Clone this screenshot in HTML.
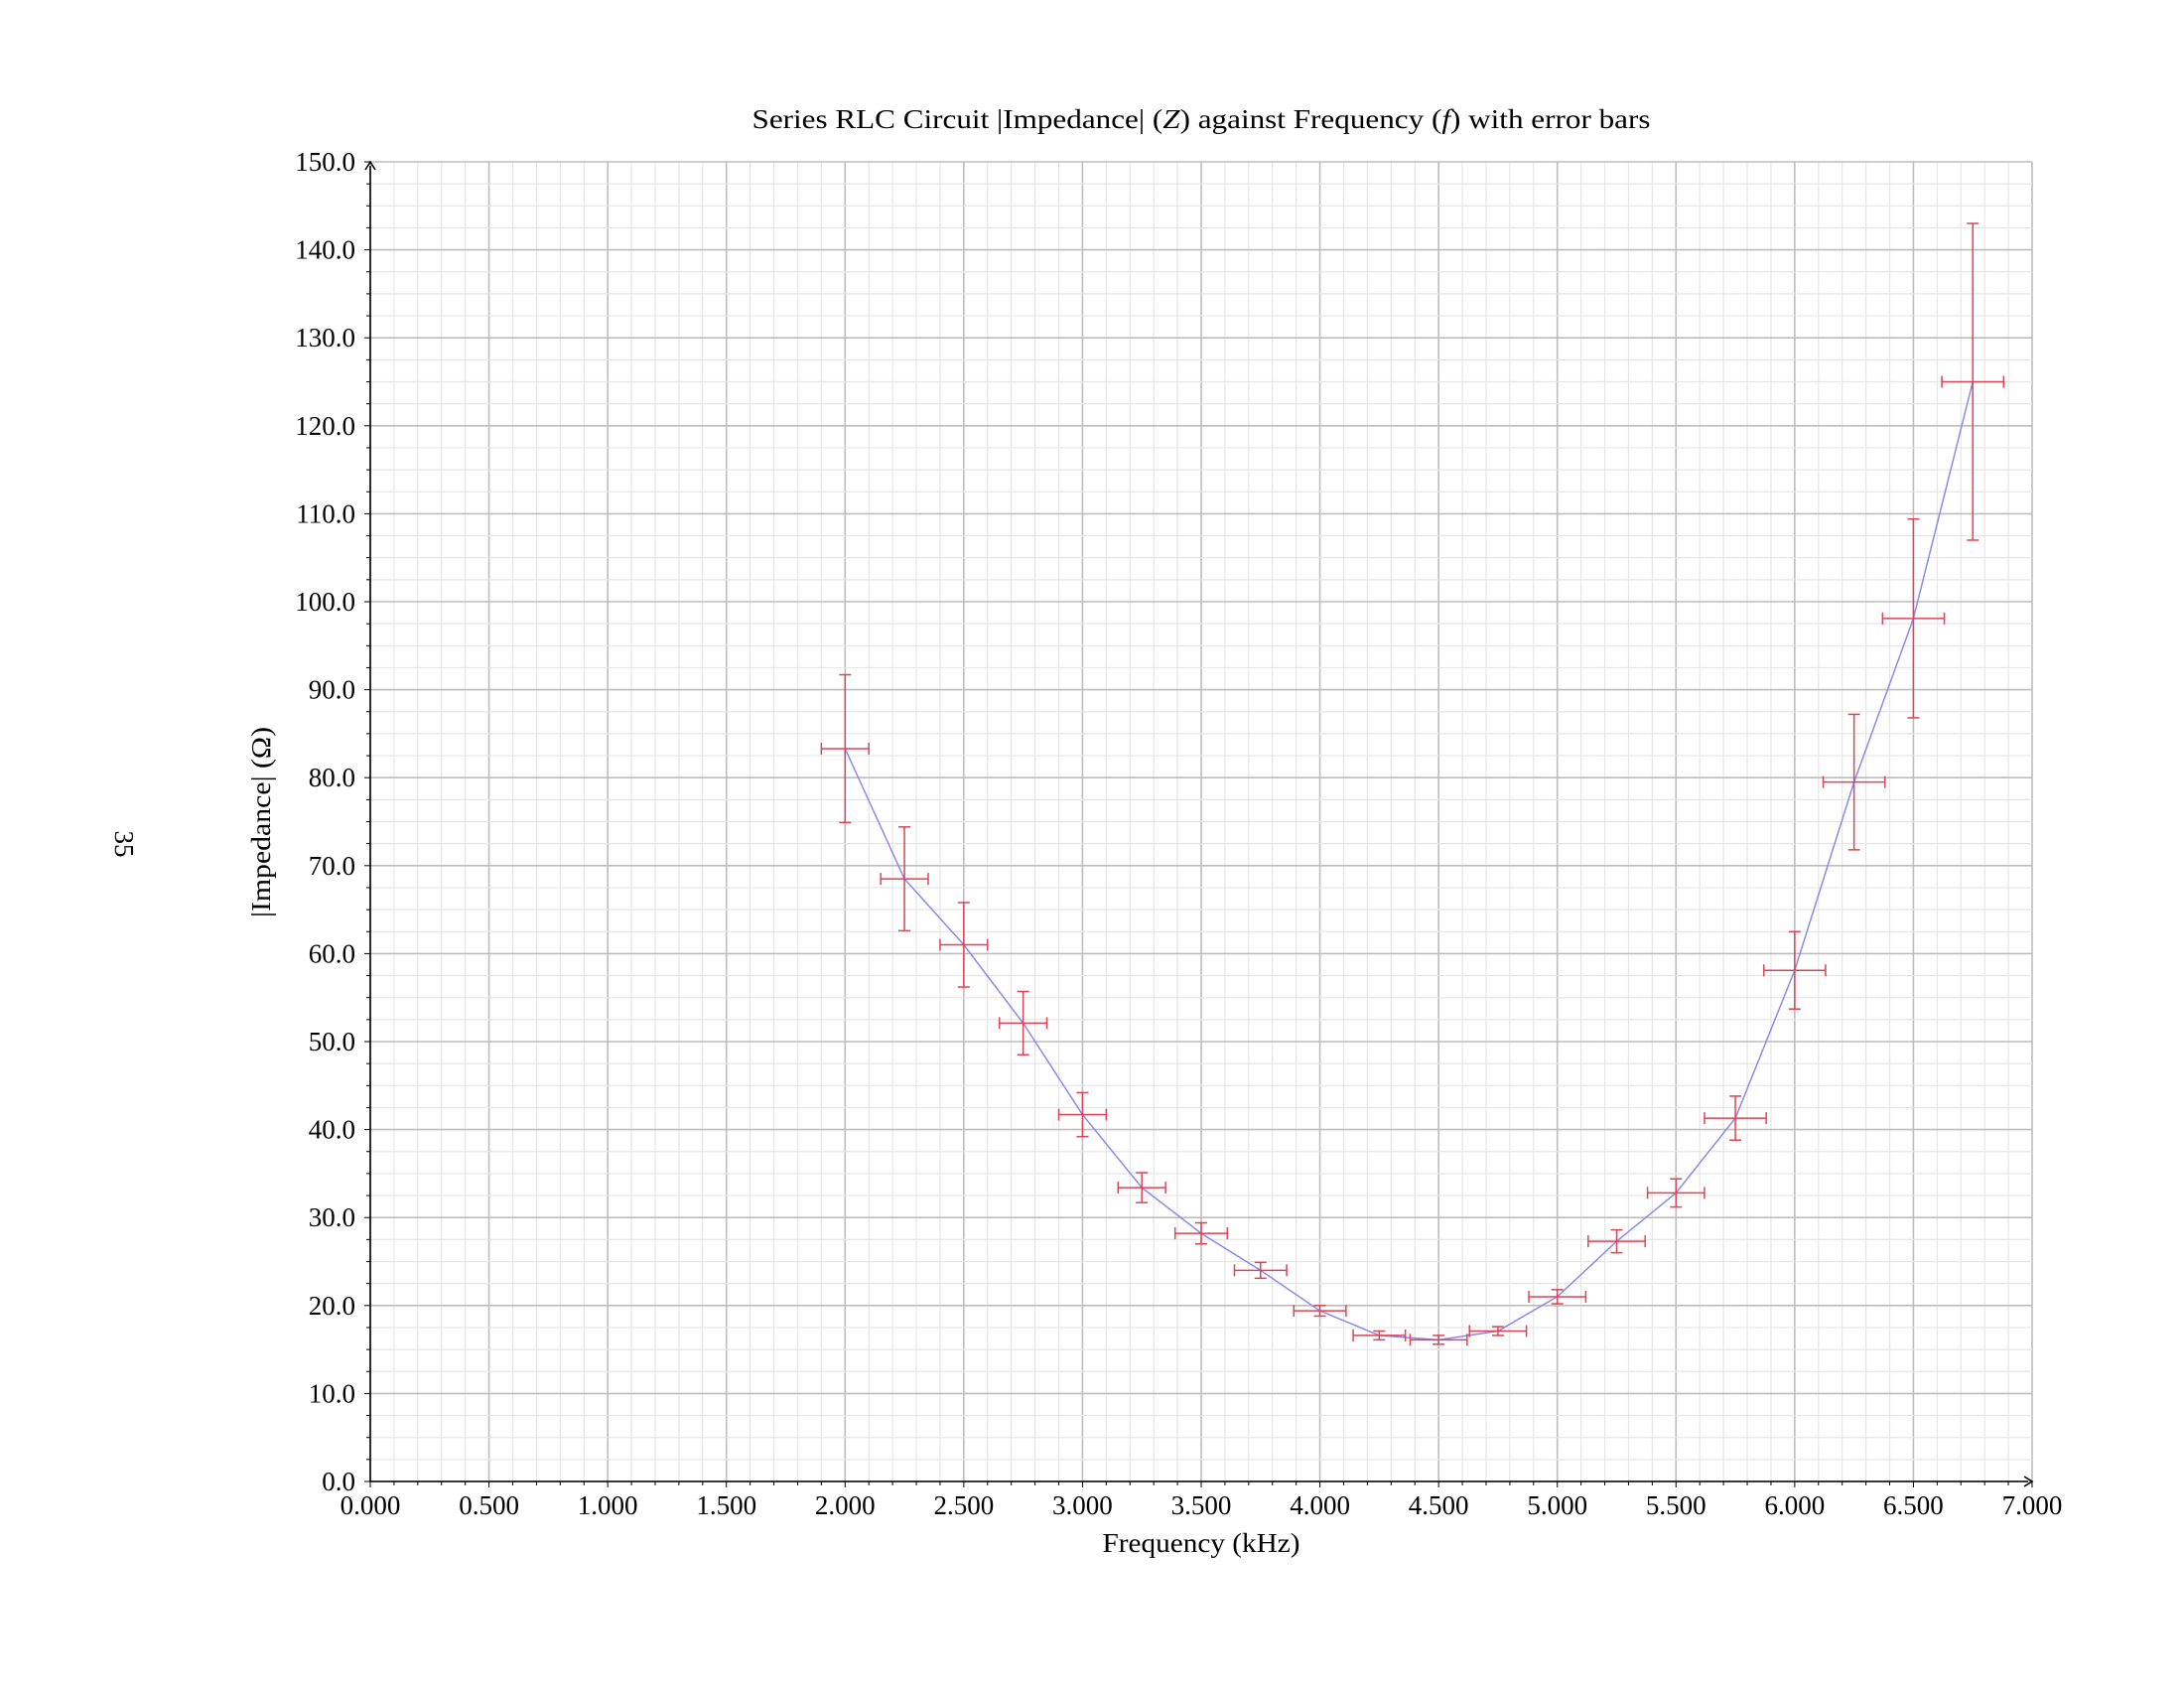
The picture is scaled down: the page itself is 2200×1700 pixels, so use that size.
<!DOCTYPE html>
<html><head><meta charset="utf-8"><style>
html,body{margin:0;padding:0;background:#fff;}
svg{display:block;font-family:"Liberation Serif",serif;}
</style></head><body>
<svg id="chart" width="2200" height="1700" viewBox="0 0 2200 1700" xmlns="http://www.w3.org/2000/svg">
<rect width="2200" height="1700" fill="#fff"/>
<g id="grid"></g>
<g id="axes"></g>
<g id="series"></g>
<text x="1210" y="129" font-size="27" text-anchor="middle" textLength="905" lengthAdjust="spacingAndGlyphs">Series RLC Circuit |Impedance| (<tspan font-style="italic">Z</tspan>) against Frequency (<tspan font-style="italic">f</tspan>) with error bars</text>
<text x="1210" y="1563" font-size="27" text-anchor="middle" textLength="199" lengthAdjust="spacingAndGlyphs">Frequency (kHz)</text>
<text transform="translate(272,828) rotate(-90)" font-size="27" text-anchor="middle" textLength="192" lengthAdjust="spacingAndGlyphs">|Impedance| (Ω)</text>
<text transform="translate(116,850) rotate(90)" font-size="27" text-anchor="middle">35</text>
</svg>
<script>
const freqs = [2.0,2.25,2.5,2.75,3.0,3.25,3.5,3.75,4.0,4.25,4.5,4.75,5.0,5.25,5.5,5.75,6.0,6.25,6.5,6.75];
const impedance = [83.3,68.5,61.0,52.1,41.7,33.4,28.2,24.0,19.4,16.6,16.1,17.1,21.0,27.3,32.8,41.3,58.1,79.5,98.1,125.0];
const yErr = [8.4,5.9,4.8,3.6,2.5,1.7,1.2,0.9,0.6,0.5,0.5,0.5,0.8,1.3,1.6,2.5,4.4,7.7,11.3,18.0];
const xErr = [0.10,0.10,0.10,0.10,0.10,0.10,0.11,0.11,0.11,0.11,0.12,0.12,0.12,0.12,0.12,0.13,0.13,0.13,0.13,0.13];
const xTicks = ["0.000","0.500","1.000","1.500","2.000","2.500","3.000","3.500","4.000","4.500","5.000","5.500","6.000","6.500","7.000"];
const yTicks = ["0.0","10.0","20.0","30.0","40.0","50.0","60.0","70.0","80.0","90.0","100.0","110.0","120.0","130.0","140.0","150.0"];

const X0=373,X1=2047,Y0=1492,Y1=163,XMAX=7,YMAX=150;
const sx=v=>X0+(X1-X0)*v/XMAX;
const sy=v=>Y0-(Y0-Y1)*v/YMAX;
const NS="http://www.w3.org/2000/svg";
function mk(tag,attrs,parent){const e=document.createElementNS(NS,tag);for(const k in attrs)e.setAttribute(k,attrs[k]);parent.appendChild(e);return e;}
const grid=document.getElementById('grid'),axes=document.getElementById('axes'),series=document.getElementById('series');

for(let i=0;i<=70;i++){const x=sx(i*0.1);const l=mk('line',{x1:x,x2:x,y1:Y1,y2:Y0,stroke:i%5===0?'#bdbdbd':'#e6e6e6','stroke-width':i%5===0?1.6:1.2},grid);

}
for(let i=0;i<=60;i++){const y=sy(i*2.5);const l=mk('line',{x1:X0,x2:X1,y1:y,y2:y,stroke:i%4===0?'#bdbdbd':'#e6e6e6','stroke-width':i%4===0?1.6:1.2},grid);

}

const xa=mk('line',{x1:X0,x2:X1-4,y1:Y0,y2:Y0,stroke:'#000','stroke-width':1.6},axes);


const ya=mk('line',{x1:X0,x2:X0,y1:Y0,y2:Y1+4,stroke:'#000','stroke-width':1.6},axes);


mk('path',{d:`M${X1-8},${Y0-5} L${X1},${Y0} L${X1-8},${Y0+5}`,fill:'none',stroke:'#000','stroke-width':1.6},axes);
mk('path',{d:`M${X0-5},${Y1+8} L${X0},${Y1} L${X0+5},${Y1+8}`,fill:'none',stroke:'#000','stroke-width':1.6},axes);
for(let i=0;i<=70;i++){const x=sx(i*0.1);mk('line',{x1:x,x2:x,y1:Y0,y2:Y0+(i%5===0?6:4),stroke:'#000','stroke-width':1},axes);}
for(let i=0;i<=60;i++){const y=sy(i*2.5);mk('line',{x1:X0-(i%4===0?6:4),x2:X0,y1:y,y2:y,stroke:'#000','stroke-width':1},axes);}
xTicks.forEach((t,i)=>{const e=mk('text',{x:sx(i*0.5),y:Y0+33,'font-size':27,'text-anchor':'middle'},axes);e.textContent=t;

});
yTicks.forEach((t,i)=>{const e=mk('text',{x:X0-15,y:sy(i*10)+9,'font-size':27,'text-anchor':'end'},axes);e.textContent=t;

});

const pl=mk('polyline',{points:freqs.map((f,i)=>sx(f)+','+sy(impedance[i])).join(' '),fill:'none',stroke:'#8a8aee','stroke-width':1.5},series);


freqs.forEach((f,i)=>{const g=mk('g',{stroke:'#dd4455','stroke-width':1.5},series);


const x=sx(f),y=sy(impedance[i]),yt=sy(impedance[i]+yErr[i]),yb=sy(impedance[i]-yErr[i]),xl=sx(f-xErr[i]),xr=sx(f+xErr[i]);
mk('line',{x1:x,x2:x,y1:yt,y2:yb},g);
mk('line',{x1:x-6,x2:x+6,y1:yt,y2:yt},g);
mk('line',{x1:x-6,x2:x+6,y1:yb,y2:yb},g);
mk('line',{x1:xl,x2:xr,y1:y,y2:y},g);
mk('line',{x1:xl,x2:xl,y1:y-6,y2:y+6},g);
mk('line',{x1:xr,x2:xr,y1:y-6,y2:y+6},g);
});
</script>
</body></html>
